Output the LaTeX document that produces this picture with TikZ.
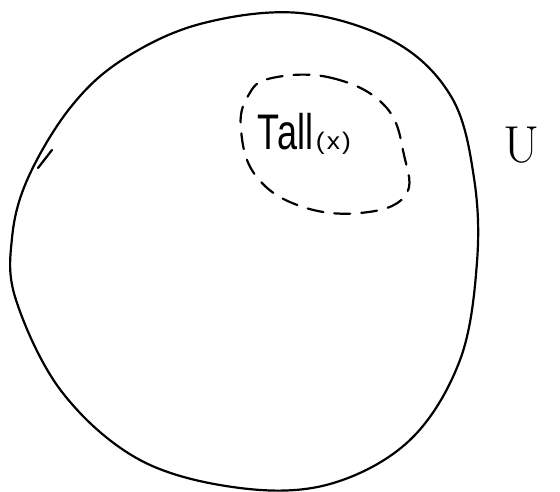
\documentclass[tikz,border=0pt]{standalone}
\usepackage{fontspec}
\newfontfamily\handfont{Liberation Sans}
\begin{document}
\begin{tikzpicture}[x=1pt,y=-1pt,
  stroke/.style={line width=2.2pt,line cap=round,line join=round},
  dashline/.style={stroke,dash pattern=on 16pt off 11pt}]
\useasboundingbox (0,0) rectangle (560,492);
% universe
\draw[stroke] plot[smooth cycle,tension=0.6] coordinates {
 (300,13) (395,42) (452,98) (474,178) (477,262) (460,360) (410,440)
 (330,484) (240,488) (140,460) (62,392) (16,300) (12,238) (28,178)
 (70,108) (122,60) (200,24)};
\draw[stroke] (38,168) -- (52,150);
% subset
\draw[dashline] plot[smooth cycle,tension=0.7] coordinates {
 (272,78) (332,78) (385,106) (404,155) (405,196) (360,213) (300,206)
 (256,176) (241,130) (248,96)};
\node[anchor=base west,inner sep=0pt] (tall) at (257,150) {\handfont\scalebox{0.72}[1]{\fontsize{50}{50}\selectfont T\kern-2pt all}\kern2pt\scalebox{1.1}[1]{\fontsize{24}{24}\selectfont (\kern2pt x\kern2pt)}};
\node[inner sep=0pt] (U) at (522,145) {\fontsize{52}{52}\selectfont U};
\end{tikzpicture}
\end{document}
